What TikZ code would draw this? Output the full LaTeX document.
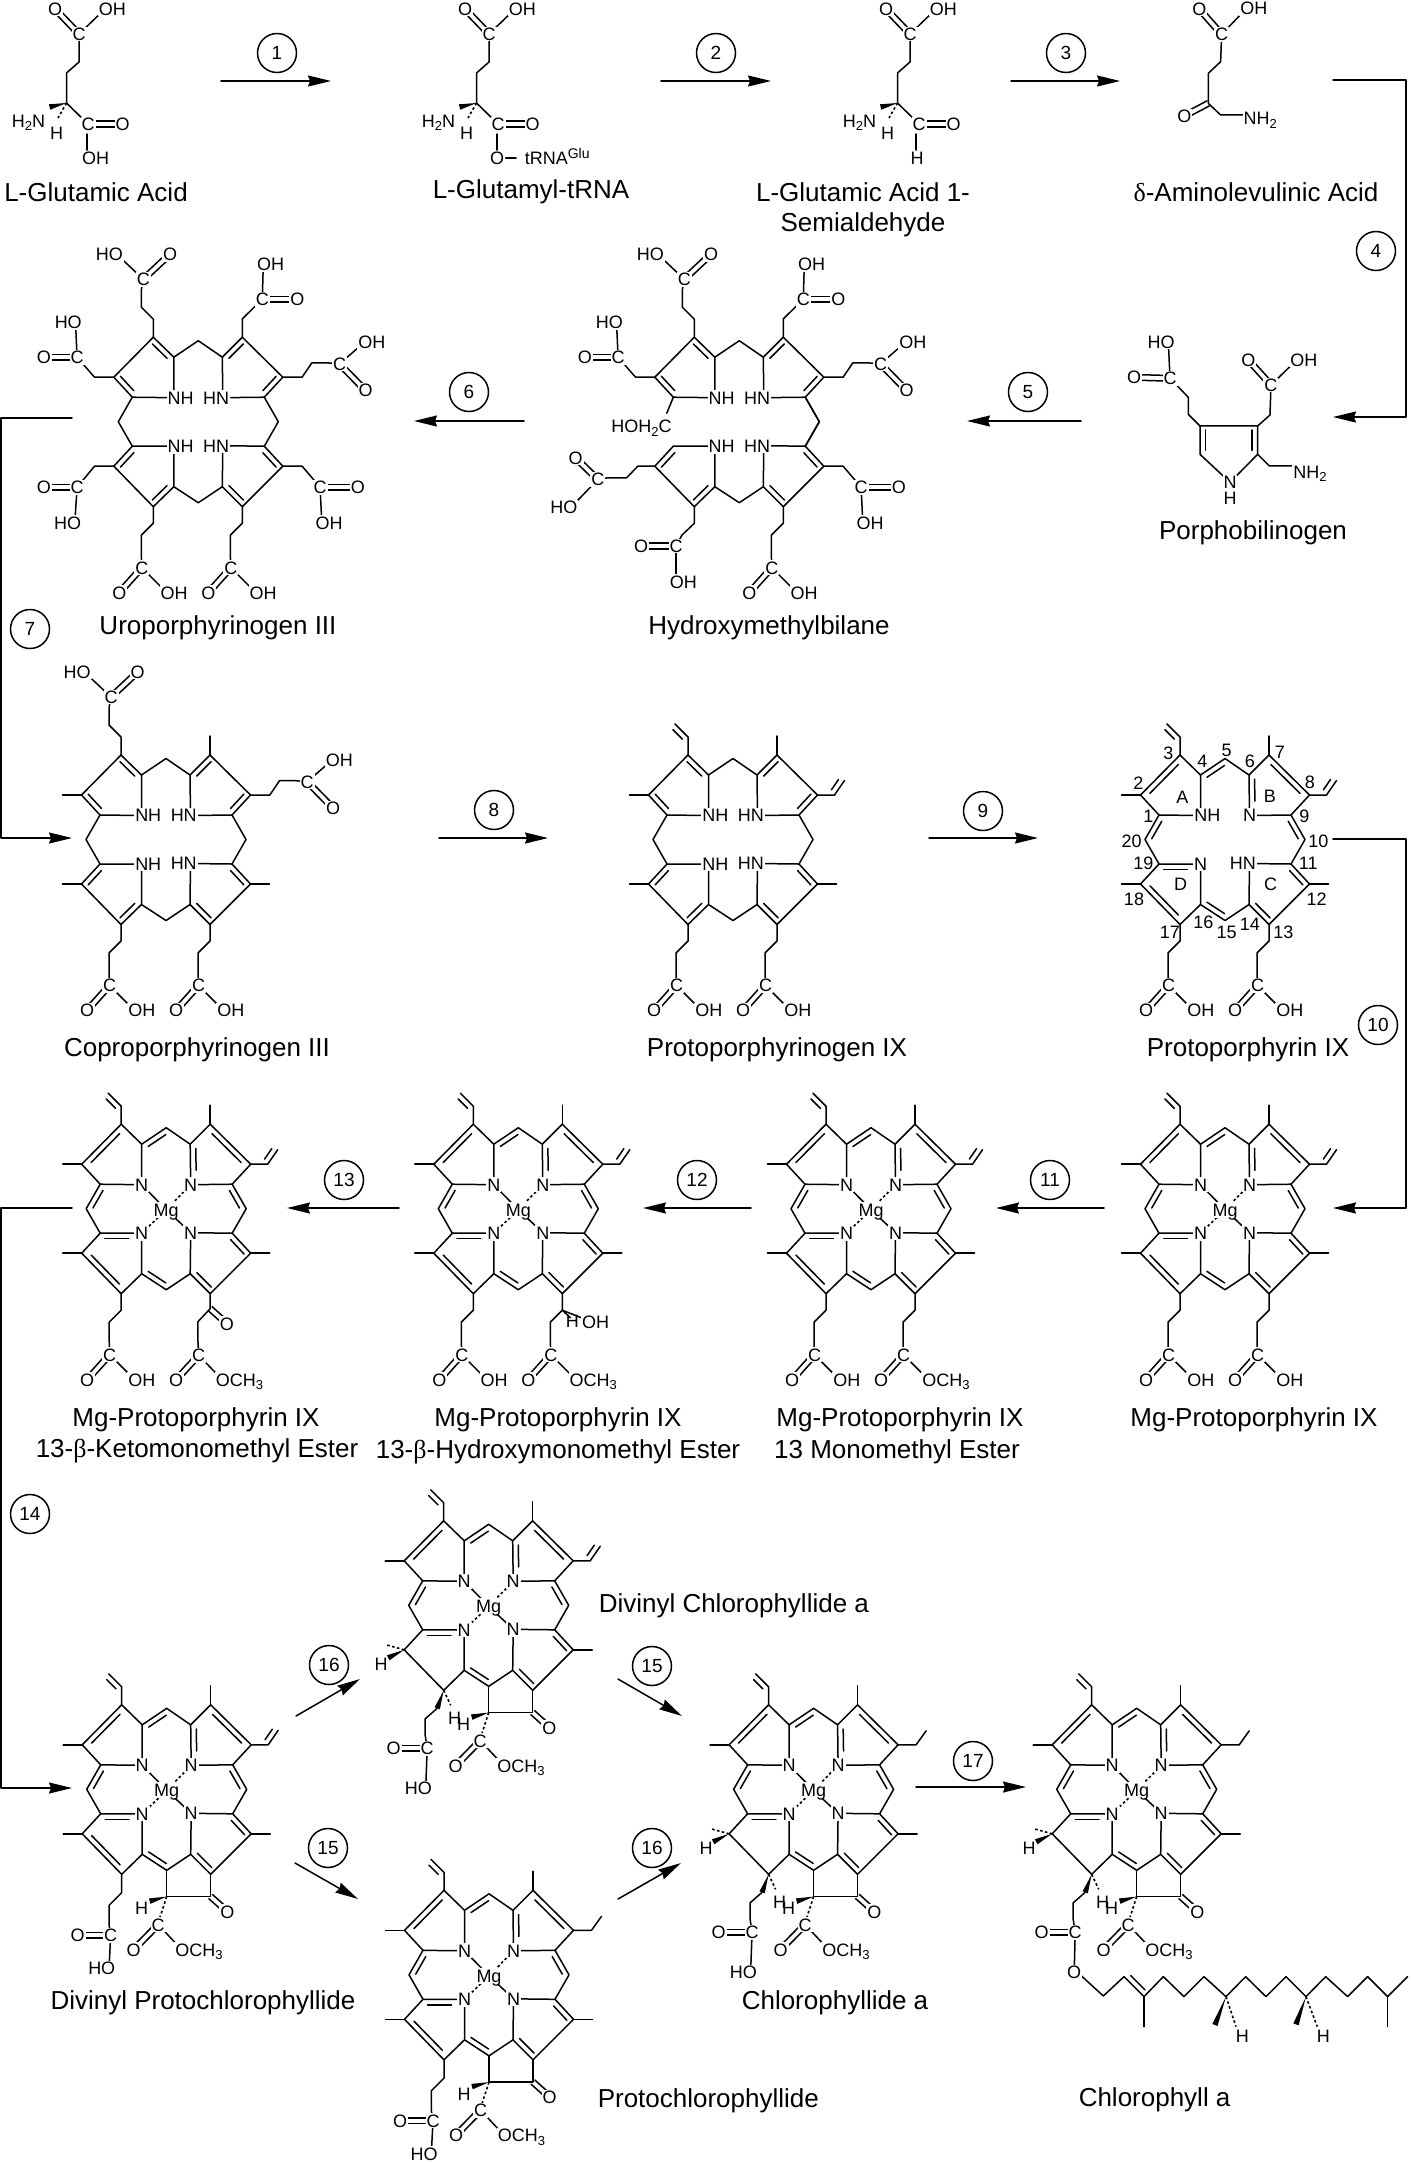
\documentclass[tikz,border=0pt]{standalone}
\usepackage{fontspec}
\setmainfont{Liberation Sans}
\newfontfamily\greekfont{Liberation Serif}
\usetikzlibrary{calc,arrows.meta}
\newcommand{\atomfont}{\fontsize{18}{20}\selectfont}
\newcommand{\namefont}{\fontsize{26}{30}\selectfont}
\newcommand{\numfont}{\fontsize{19}{20}\selectfont}
\newcommand{\subn}[1]{\raisebox{-3.5pt}{\fontsize{13}{13}\selectfont #1}}
\newcommand{\supn}[1]{\raisebox{6pt}{\fontsize{14}{14}\selectfont #1}}
\tikzset{
  atom/.style={font=\atomfont,fill=white,inner sep=1pt,text height=12.9pt,text depth=0pt},
  hlab/.style={atom,fill=none},
  rgt/.style={anchor=west,xshift=-8pt},
  lft/.style={anchor=east,xshift=8pt},
  ctr/.style={},
  cmpd/.style={font=\namefont,inner sep=0pt,yshift=-2.5pt},
  rxnnum/.style={circle,draw,minimum size=39pt,inner sep=0pt,font=\numfont},
  rxnarrow/.style={-{Stealth[length=23pt,width=11pt,inset=2pt]}},
  hash/.style={dash pattern=on 2.6pt off 2.4pt,line cap=butt,line width=1.6pt},
}
% inner line of a ring double bond, on the left of #1 -> #2
\newcommand{\dbl}[2]{\draw ($(#1)!.14!(#2)!5.5pt!90:(#2)$) -- ($(#2)!.14!(#1)!5.5pt!-90:(#1)$);}
\newcommand{\bondd}[2]{\draw ($(#1)!2.8pt!90:(#2)$) -- ($(#2)!2.8pt!-90:(#1)$);
  \draw ($(#1)!2.8pt!-90:(#2)$) -- ($(#2)!2.8pt!90:(#1)$);}
\newcommand{\wedgeb}[2]{\fill ($(#2)!2.8pt!90:(#1)$) -- ($(#2)!2.8pt!-90:(#1)$) -- (#1) -- cycle;}
\newcommand{\methyl}[3]{\draw (#1) -- ++(#2,#3);}
% C at #1, =O at #2, other oxygen at #3 with text #4 set to side #5
\newcommand{\carboxyl}[5]{
  \coordinate (cc) at (#1); \coordinate (oo) at (#2); \coordinate (xx) at (#3);
  \bondd{cc}{oo} \draw (cc) -- (xx);
  \node[atom] (catom) at (cc) {C};
  \node[atom] (oatom) at (oo) {O};
  \node[atom,#5] (xatom) at (xx) {#4};}
% the tetrapyrrole core
\newcommand{\core}[2]{
  \begin{scope}[shift={(#1,#2)}]
    \foreach \n/\xx/\yy in {1/-66/-24.5,2/-84.5/-44.5,3/-45/-84.5,4/-24.5/-64.5,5/0/-81,
      6/24/-64.5,7/44/-84.5,8/84.5/-44.5,9/66/-24.5,10/80/0,11/66/24.5,12/84.5/44.5,
      13/44/85,14/24/65,15/0/81,16/-24.5/65,17/-45/85,18/-84.5/44.5,19/-66/24.5,20/-80/0}
      \coordinate (c\n) at (\xx,\yy);
    \coordinate (na) at (-24.5,-24); \coordinate (nb) at (24.5,-24);
    \coordinate (nc) at (24.5,24); \coordinate (nd) at (-24.5,24.5);
    \coordinate (qb) at (24.5,-34); \coordinate (qd) at (-33,24.5);
    \coordinate (mg) at (0,1);
    \coordinate (e1) at (0,107.3); \coordinate (e2) at (44,107.3);
  \end{scope}}
\newcommand{\coreframe}{
  \draw (na) -- (c1) -- (c2) -- (c3) -- (c4) -- (na);
  \draw (c4) -- (c5) -- (c6) -- (nb) -- (c9) -- (c8) -- (c7) -- (c6);
  \draw (c9) -- (c10) -- (c11) -- (nc) -- (c14) -- (c13) -- (c12) -- (c11);
  \draw (c14) -- (c15) -- (c16) -- (nd) -- (c19) -- (c18) -- (c17) -- (c16);}
\newcommand{\closeleft}{\draw (c19) -- (c20) -- (c1);}
\newcommand{\pgendbl}{
  \dbl{c2}{c1} \dbl{c4}{c3} \dbl{c7}{c6} \dbl{c9}{c8}
  \dbl{c12}{c11} \dbl{c14}{c13} \dbl{c17}{c16} \dbl{c19}{c18}}
\newcommand{\pordbl}{
  \dbl{c3}{c2} \dbl{c5}{c4} \dbl{c6}{qb} \dbl{c8}{c7} \dbl{c10}{c9}
  \dbl{c12}{c11} \dbl{c14}{c13} \dbl{c16}{c15} \dbl{qd}{c19} \dbl{c1}{c20}}
\newcommand{\nhatoms}{
  \node[atom,rgt] (natom1) at (na) {NH};
  \node[atom,lft] (natom2) at (nb) {HN};
  \node[atom,lft] (natom3) at (nc) {HN};
  \node[atom,rgt] (natom4) at (nd) {NH};}
\newcommand{\mgatoms}{
  \draw (na) -- (mg); \draw (nc) -- (mg);
  \draw[hash] (nb) -- (mg); \draw[hash] (nd) -- (mg);
  \node[atom] (natom1) at (na) {N};
  \node[atom] (natom2) at (nb) {N};
  \node[atom] (natom3) at (nc) {N};
  \node[atom] (natom4) at (nd) {N};
  \node[atom,inner sep=1.5pt] (mgatom) at (mg) {Mg};}
\newcommand{\mgcore}[2]{\core{#1}{#2} \coreframe \closeleft \pordbl \mgatoms}
% side groups
\newcommand{\vinylup}[1]{\begin{scope}[shift={(#1)}]
  \coordinate (va) at (0,-18); \coordinate (vb) at (-13,-31);
  \draw (0,0) -- (va) -- (vb); \dbl{va}{vb}
  \end{scope}}
\newcommand{\vinylrt}[1]{\begin{scope}[shift={(#1)}]
  \coordinate (va) at (17,0); \coordinate (vb) at (27,-14.5);
  \draw (0,0) -- (va) -- (vb); \dbl{va}{vb}
  \end{scope}}
\newcommand{\ethylrt}[1]{\draw (#1) -- ++(18,0) -- ++(10,-14);}
\newcommand{\propdown}[2]{\begin{scope}[shift={(#1)}]
  \draw (0,0) -- (0,16.5) -- (-12,28.5) -- (-12,47) -- (-11.5,61);
  \carboxyl{-11.5,61}{-34,86}{13.5,86}{#2}{rgt}
  \end{scope}}
\newcommand{\propup}[1]{\begin{scope}[shift={(#1)}]
  \draw (0,0) -- (0,-18) -- (-12,-30) -- (-12,-47) -- (-10,-58);
  \carboxyl{-10,-58}{16.7,-83}{-36.7,-83}{HO}{lft}
  \end{scope}}
\newcommand{\propright}[1]{\begin{scope}[shift={(#1)}]
  \draw (0,0) -- (19.3,0) -- (29,-14.3) -- (45,-14.3) -- (56.7,-13.3);
  \carboxyl{56.7,-13.3}{82.7,13.3}{81.7,-35}{OH}{rgt}
  \end{scope}}
\newcommand{\acetTL}[1]{\begin{scope}[shift={(#1)}]
  \draw (0,0) -- (-19.3,0) -- (-36.7,-20);
  \carboxyl{-36.7,-20}{-70,-20}{-38.3,-55}{HO}{lft}
  \end{scope}}
\newcommand{\acetTR}[1]{\begin{scope}[shift={(#1)}]
  \draw (0,0) -- (0,-18.3) -- (20,-38);
  \carboxyl{20,-38}{55,-38}{21,-73}{OH}{rgt}
  \end{scope}}
\newcommand{\acetBR}[1]{\begin{scope}[shift={(#1)}]
  \draw (0,0) -- (19.3,0) -- (37.3,21);
  \carboxyl{37.3,21}{75,21}{39,56.7}{OH}{rgt}
  \end{scope}}
\newcommand{\acetBL}[1]{\begin{scope}[shift={(#1)}]
  \draw (0,0) -- (-19.3,0) -- (-36.7,21);
  \carboxyl{-36.7,21}{-70,21}{-39,56.7}{HO}{lft}
  \end{scope}}
\newcommand{\propHO}[1]{\begin{scope}[shift={(#1)}]
  \draw (0,0) -- (0,18.3) -- (-12.7,31) -- (-12.7,51) -- (-10.3,61);
  \carboxyl{-11,61}{-44,61}{-12.7,94}{HO}{lft}
  \end{scope}}
% the ring with the keto group, with its ester
\newcommand{\ringE}{
  \draw (c15) -- (e1) -- (e2) -- (c13);
  \begin{scope}[shift={(e1)}]
    \coordinate (hw) at (-17,4.5); \wedgeb{e1}{hw}
    \draw[hash] (0,0) -- (-8.5,26);
    \node[hlab] (hten) at (-25,11.5) {H};
    \coordinate (ketO) at (60.7,15);
    \bondd{e2}{ketO}
    \node[atom] (ketatom) at (ketO) {O};
    \carboxyl{-8.5,28}{-33,53}{15,53}{OCH\subn{3}}{rgt}
  \end{scope}}
% reduced ring D
\newcommand{\chlorinD}{
  \begin{scope}[shift={(c18)}]
    \coordinate (ha) at (-16,8); \coordinate (hb) at (-18,-5);
    \wedgeb{c18}{ha} \draw[hash] (0,0) -- (hb);
    \node[hlab] (hsix) at (-23,14) {H};
  \end{scope}
  \begin{scope}[shift={(c17)}]
    \coordinate (hc) at (7,15); \coordinate (hd) at (-6.5,18);
    \draw[hash] (0,0) -- (hc); \wedgeb{c17}{hd}
    \node[hlab] (hsev) at (11,28) {H};
    \draw (hd) -- (-18.5,28.5) -- (-18.5,45) -- (-16.5,58);
  \end{scope}}
% the glutamate skeleton of the first row
\newcommand{\glubase}[1]{
  \begin{scope}[shift={(#1,0)}]
    \coordinate (gc) at (66.5,103); \coordinate (gw) at (49.6,107); \coordinate (gh) at (58,118);
    \draw (79,34) -- (79,62) -- (66.5,73) -- (gc) -- (88,124);
    \carboxyl{79,34}{55,9}{105,9}{OH}{rgt}
    \wedgeb{gc}{gw} \draw[hash] (gc) -- (gh);
    \node[atom] (hnatom) at (28.5,121) {H\subn{2}N};
    \node[hlab] (hatom) at (56.5,133) {H};
    \coordinate (gg) at (88,124); \coordinate (gd) at (122.6,124);
    \bondd{gg}{gd}
    \node[atom] (cgatom) at (gg) {C};
    \node[atom] (ogatom) at (gd) {O};
  \end{scope}}
\begin{document}
\begin{tikzpicture}[x=1pt,y=-1pt,line width=1.5pt,line join=round,line cap=round]
\useasboundingbox (0,0) rectangle (1411,2164);
% first row
\glubase{0}
\draw (87,134) -- (87,150);
\node[atom] (ohone) at (95.5,158) {OH};
\glubase{410}
\draw (497,134) -- (497,150);
\node[atom] (otrna) at (497,158) {O};
\node[atom,anchor=west] (trna) at (523,158) {tRNA\supn{Glu}};
\coordinate (tb) at (516,158);
\draw (otrna) -- (tb);
\glubase{831}
\draw (916,134) -- (916,150);
\node[atom] (hald) at (917,158) {H};
\begin{scope}[shift={(830,0)},x=.3333pt,y=-.3333pt]
  \draw (1175,103) -- (1172,185) -- (1135,220) -- (1135,310) -- (1172,345) -- (1250,345);
  \carboxyl{1175,103}{1108,27}{1250,25}{OH}{rgt}
  \coordinate (alav) at (1135,310); \coordinate (alao) at (1063,348);
  \bondd{alav}{alao}
  \node[atom] (alaoatom) at (alao) {O};
  \node[atom,anchor=west] (alan) at (1236,355) {NH\subn{2}};
\end{scope}
% porphobilinogen
\begin{scope}[shift={(1110,320)},x=.3333pt,y=-.3333pt]
  \coordinate (pa) at (270,318); \coordinate (pb) at (443,318); \coordinate (pc) at (443,403);
  \coordinate (pd) at (270,403); \coordinate (pn) at (360,487);
  \coordinate (pac) at (180,175); \coordinate (pbc) at (483,195);
  \draw (pa) -- (pb) -- (pc) -- (pn) -- (pd) -- (pa);
  \dbl{pa}{pd} \dbl{pc}{pb}
  \draw (pa) -- (235,283) -- (235,232) -- (pac);
  \draw (pb) -- (480,285) -- (pbc);
  \draw (pc) -- (478,438) -- (560,438);
  \carboxyl{180,175}{72,172}{175,65}{HO}{lft}
  \carboxyl{483,195}{415,120}{560,120}{OH}{rgt}
  \node[atom,anchor=west] (pnh) at (545,455) {NH\subn{2}};
  \node[atom] (pnatom) at (pn) {N};
  \node[hlab] (phatom) at (360,535) {H};
\end{scope}
% uroporphyrinogen
\core{198.3}{421.7} \coreframe \closeleft \pgendbl \nhatoms
\propup{c3} \acetTL{c2} \acetTR{c7} \propright{c8} \acetBR{c12} \acetBL{c18}
\propdown{c17}{OH} \propdown{c13}{OH}
% hydroxymethylbilane
\core{739.3}{421.7} \coreframe \pgendbl \nhatoms
\draw (c11) -- (c10) -- (c9);
\propup{c3} \acetTL{c2} \acetTR{c7} \propright{c8} \acetBR{c12} \propdown{c13}{OH}
\begin{scope}[shift={(c1)}]
  \draw (0,0) -- (-6.5,16);
  \node[atom,anchor=east] (hohc) at (0,29) {HOH\subn{2}C};
\end{scope}
\begin{scope}[shift={(c18)}]
  \draw (0,0) -- (-17,0) -- (-28.3,11.7) -- (-47.7,11.7) -- (-57,13.3);
  \carboxyl{-57,13.3}{-79.3,-8.3}{-83.7,41}{HO}{lft}
\end{scope}
\begin{scope}[shift={(c17)}]
  \draw (0,0) -- (0,16.7) -- (-12.3,28.3) -- (-18.3,39.3);
  \carboxyl{-18.3,39.3}{-53.3,39.3}{-18.3,75}{OH}{rgt}
\end{scope}
% coproporphyrinogen
\core{166}{839.5} \coreframe \closeleft \pgendbl \nhatoms
\propup{c3} \propright{c8} \methyl{c2}{-19}{0} \methyl{c7}{0}{-19}
\methyl{c12}{19}{0} \methyl{c18}{-19}{0} \propdown{c17}{OH} \propdown{c13}{OH}
% protoporphyrinogen
\core{733}{839.5} \coreframe \closeleft \pgendbl \nhatoms
\vinylup{c3} \vinylrt{c8} \methyl{c2}{-19}{0} \methyl{c7}{0}{-19}
\methyl{c12}{19}{0} \methyl{c18}{-19}{0} \propdown{c17}{OH} \propdown{c13}{OH}
% protoporphyrin, numbered
\core{1225}{839.5} \coreframe \closeleft \pordbl \dbl{c18}{c17}
\node[atom,rgt] (natom1) at (na) {NH};
\node[atom] (natom2) at (nb) {N};
\node[atom,lft] (natom3) at (nc) {HN};
\node[atom] (natom4) at (nd) {N};
\vinylup{c3} \vinylrt{c8} \methyl{c2}{-19}{0} \methyl{c7}{0}{-19}
\methyl{c12}{19}{0} \methyl{c18}{-19}{0} \propdown{c17}{OH} \propdown{c13}{OH}
\begin{scope}[shift={(1060,730)},x=.3333pt,y=-.3333pt]
  \foreach \n/\xx/\yy in {1/265/258,2/235/160,3/325/70,4/427/95,5/500/60,6/570/95,7/660/68,
    8/750/158,9/733/258,10/775/333,11/745/400,12/770/508,13/670/608,14/570/582,15/500/608,
    16/430/578,17/330/608,18/222/508,19/250/400,20/215/333}
    \node[font=\atomfont,inner sep=0pt] (num\n) at (\xx,\yy) {\n};
  \foreach \n/\xx/\yy in {A/367/202,B/630/198,C/632/462,D/362/462}
    \node[font=\atomfont,inner sep=0pt] (ring\n) at (\xx,\yy) {\n};
\end{scope}
% magnesium row
\mgcore{1225}{1208.7} \dbl{c18}{c17}
\vinylup{c3} \vinylrt{c8} \methyl{c2}{-19}{0} \methyl{c7}{0}{-19}
\methyl{c12}{19}{0} \methyl{c18}{-19}{0} \propdown{c17}{OH} \propdown{c13}{OH}
\mgcore{871}{1208.7} \dbl{c18}{c17}
\vinylup{c3} \vinylrt{c8} \methyl{c2}{-19}{0} \methyl{c7}{0}{-19}
\methyl{c12}{19}{0} \methyl{c18}{-19}{0} \propdown{c17}{OH} \propdown{c13}{OCH\subn{3}}
\mgcore{518.3}{1208.7} \dbl{c18}{c17}
\vinylup{c3} \vinylrt{c8} \methyl{c2}{-19}{0} \methyl{c7}{0}{-19}
\methyl{c12}{19}{0} \methyl{c18}{-19}{0} \propdown{c17}{OH}
\begin{scope}[shift={(c13)}]
  \draw (0,0) -- (0,16.5) -- (-12,28.5) -- (-12,47) -- (-11.5,61);
  \draw (0,16.5) -- (8,24);
  \draw (0,16.5) -- (24,26);
  \node[hlab] (hoxy) at (10,27) {H};
  \node[atom,anchor=west] (ohoxy) at (18,28) {OH};
  \carboxyl{-11.5,61}{-34,86}{13.5,86}{OCH\subn{3}}{rgt}
\end{scope}
\mgcore{166.2}{1208.7} \dbl{c18}{c17}
\vinylup{c3} \vinylrt{c8} \methyl{c2}{-19}{0} \methyl{c7}{0}{-19}
\methyl{c12}{19}{0} \methyl{c18}{-19}{0} \propdown{c17}{OH}
\begin{scope}[shift={(c13)}]
  \coordinate (kv) at (0,15); \coordinate (ko) at (16.7,30);
  \draw (0,0) -- (kv) -- (-12.3,28) -- (-12.3,47) -- (-11.5,61.5);
  \bondd{kv}{ko}
  \node[atom] (koatom) at (ko) {O};
  \carboxyl{-11.5,61.5}{-34,86}{12,86}{OCH\subn{3}}{rgt}
\end{scope}
% chlorophyll stage
\mgcore{166.7}{1789.3} \dbl{c18}{c17} \ringE
\vinylup{c3} \vinylrt{c8} \methyl{c2}{-19}{0} \methyl{c7}{0}{-19}
\methyl{c12}{19}{0} \methyl{c18}{-19}{0} \propHO{c17}
\mgcore{489}{1974.8} \dbl{c18}{c17} \ringE
\vinylup{c3} \ethylrt{c8} \methyl{c2}{-19}{0} \methyl{c7}{0}{-19}
\methyl{c12}{19}{0} \methyl{c18}{-19}{0} \propHO{c17}
\mgcore{488.7}{1605.3} \ringE \chlorinD
\vinylup{c3} \vinylrt{c8} \methyl{c2}{-19}{0} \methyl{c7}{0}{-19} \methyl{c12}{19}{0}
\begin{scope}[shift={(c17)}] \carboxyl{-16.5,58}{-50,58}{-18,98}{HO}{lft} \end{scope}
\mgcore{813.6}{1789.3} \ringE \chlorinD
\vinylup{c3} \ethylrt{c8} \methyl{c2}{-19}{0} \methyl{c7}{0}{-19} \methyl{c12}{19}{0}
\begin{scope}[shift={(c17)}] \carboxyl{-16.5,58}{-50,58}{-18,98}{HO}{lft} \end{scope}
\mgcore{1136.7}{1789.3} \ringE \chlorinD
\vinylup{c3} \ethylrt{c8} \methyl{c2}{-19}{0} \methyl{c7}{0}{-19} \methyl{c12}{19}{0}
% phytyl tail
\begin{scope}[shift={(1000,1660)},x=.3333pt,y=-.3333pt]
  \coordinate (pt1) at (372,950); \coordinate (pt2) at (432,1010);
  \coordinate (ca) at (678,1010); \coordinate (cb) at (918,1010);
  \coordinate (wa) at (645,1095); \coordinate (wb) at (888,1093);
  \draw (225,930) -- (310,1008) -- (pt1) -- (pt2) -- (490,950) -- (552,1010) -- (612,950)
    -- (ca) -- (737,950) -- (798,1010) -- (858,950) -- (cb) -- (977,950) -- (1043,1010)
    -- (1103,950) -- (1163,1010) -- (1223,950);
  \draw (1163,1010) -- (1163,1100);
  \draw (pt2) -- (432,1100);
  \dbl{pt1}{pt2}
  \wedgeb{ca}{wa} \wedgeb{cb}{wb}
  \draw[hash] (ca) -- (708,1100);
  \draw[hash] (cb) -- (952,1100);
  \node[hlab] (hpa) at (727,1128) {H};
  \node[hlab] (hpb) at (970,1128) {H};
\end{scope}
\begin{scope}[shift={(c17)}] \carboxyl{-16.5,58}{-50,58}{-17.5,97.7}{O}{ctr} \end{scope}
% compound names
\node[cmpd] (glutamic) at (96,189.5) {L-Glutamic Acid};
\node[cmpd] (glutamyl) at (531,189.5) {L-Glutamyl-tRNA};
\node[cmpd] (semia) at (863,189.5) {L-Glutamic Acid 1-};
\node[cmpd] (semib) at (863,222) {Semialdehyde};
\node[cmpd] (ala) at (1256,189.5) {{\greekfont δ}-Aminolevulinic Acid};
\node[cmpd] (pbg) at (1253,530) {Porphobilinogen};
\node[cmpd] (uro) at (218,625) {Uroporphyrinogen III};
\node[cmpd] (hmb) at (769,625) {Hydroxymethylbilane};
\node[cmpd] (copro) at (197,1047) {Coproporphyrinogen III};
\node[cmpd] (protogen) at (777,1047) {Protoporphyrinogen IX};
\node[cmpd] (proto) at (1248,1047) {Protoporphyrin IX};
\node[cmpd] (mgproto) at (1254,1417.5) {Mg-Protoporphyrin IX};
\node[cmpd] (monoa) at (900,1417.5) {Mg-Protoporphyrin IX};
\node[cmpd] (monob) at (897,1449.5) {13 Monomethyl Ester};
\node[cmpd] (hyda) at (558,1417.5) {Mg-Protoporphyrin IX};
\node[cmpd] (hydb) at (558,1449.5) {13-{\greekfont β}-Hydroxymonomethyl Ester};
\node[cmpd] (keta) at (196,1417.5) {Mg-Protoporphyrin IX};
\node[cmpd] (ketb) at (197,1448) {13-{\greekfont β}-Ketomonomethyl Ester};
\node[cmpd] (dvpc) at (203,2000) {Divinyl Protochlorophyllide};
\node[cmpd,anchor=west] (dvcl) at (598,1603) {Divinyl Chlorophyllide a};
\node[cmpd,anchor=west] (pchl) at (597,2098) {Protochlorophyllide};
\node[cmpd] (chlide) at (835,2000) {Chlorophyllide a};
\node[cmpd,anchor=west] (chla) at (1078,2097) {Chlorophyll a};
% reactions
\foreach \id/\lab/\xa/\ya/\xb/\yb/\cx/\cy in {1/1/221/81/331/81/277/53,2/2/661/81/771/81/716/53,
  3/3/1011/81/1120/81/1066/53,5/5/1081/421/967/421/1028/392,6/6/524/421/414/421/469/392,
  8/8/439/838/548/838/494/810,9/9/929/838/1038/838/983/811,11/11/1104/1208/996/1208/1050/1180,
  12/12/751/1208/643/1208/697/1180,13/13/399/1208/287/1208/344/1180,
  16/16/296/1716/360/1679/329/1665,15/15/295/1863/358/1899/328/1848,
  15b/15/618/1679/682/1716/652/1666,16b/16/618/1899/681/1863/652/1848,
  17/17/916/1787/1026/1787/973/1761}{
  \coordinate (a\id) at (\xa,\ya);
  \coordinate (b\id) at (\xb,\yb);
  \draw[rxnarrow] (a\id) -- (b\id);
  \node[rxnnum] (s\id) at (\cx,\cy) {\lab};
}
\foreach \id/\xa/\ya/\xb/\yb/\xm/\cx/\cy in {4/1333/80/1333/417/1406/1376/251,
  7/72/418/72/838/1/30/629,10/1333/839/1333/1208/1406/1378/1025,14/72/1208/72/1788/1/30/1514}{
  \coordinate (a\id) at (\xa,\ya);
  \coordinate (b\id) at (\xb,\yb);
  \coordinate (m\id) at (\xm,\ya);
  \coordinate (k\id) at (\xm,\yb);
  \draw[rxnarrow] (a\id) -- (m\id) -- (k\id) -- (b\id);
  \node[rxnnum] (s\id) at (\cx,\cy) {\id};
}
\end{tikzpicture}
\end{document}
